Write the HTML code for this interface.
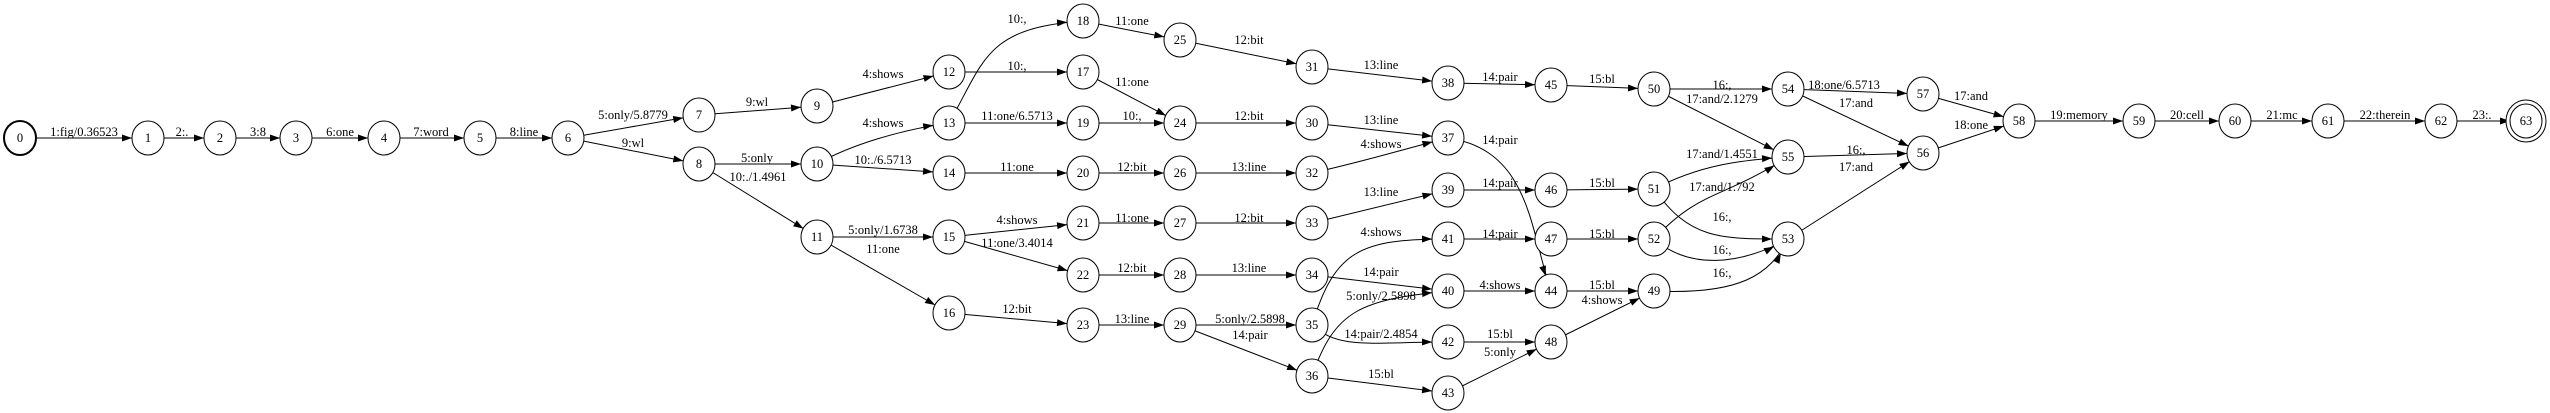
<!DOCTYPE html>
<html><head><meta charset="utf-8"><style>
html,body{margin:0;padding:0;background:#fff;width:2550px;height:413px;overflow:hidden}
svg text{font-family:"Liberation Serif",serif;font-size:12.5px;fill:#000}
.e{fill:none;stroke:#000;stroke-width:1;marker-end:url(#a)}
.n{fill:#fff;stroke:#000;stroke-width:1}
</style></head><body>
<svg width="2550" height="413" viewBox="0 0 2550 413">
<defs><marker id="a" viewBox="0 0 10 7" markerWidth="10" markerHeight="7" refX="26" refY="3.5" markerUnits="userSpaceOnUse" orient="auto" overflow="visible"><path d="M0,0 L10,3.5 L0,7 z" fill="#000"/></marker></defs>
<g>
<path class="e" d="M20,138 L148,138"/>
<path class="e" d="M148,138 L220,138"/>
<path class="e" d="M220,138 L296,138"/>
<path class="e" d="M296,138 L384,138"/>
<path class="e" d="M384,138 L480,138"/>
<path class="e" d="M480,138 L568,138"/>
<path class="e" d="M568,138 L699,115"/>
<path class="e" d="M568,138 L699,164"/>
<path class="e" d="M699,115 L817,106"/>
<path class="e" d="M699,164 L817,164"/>
<path class="e" d="M699,164 L817,237"/>
<path class="e" d="M817,106 L949,72"/>
<path class="e" d="M817,164 C850,145 900,130 949,123"/>
<path class="e" d="M817,164 L949,173"/>
<path class="e" d="M817,237 L949,237"/>
<path class="e" d="M817,237 L949,313"/>
<path class="e" d="M949,123 C985,60 985,28 1083,21"/>
<path class="e" d="M949,72 L1083,72"/>
<path class="e" d="M949,123 L1083,123"/>
<path class="e" d="M949,173 L1083,173"/>
<path class="e" d="M949,237 L1083,223"/>
<path class="e" d="M949,237 L1083,275"/>
<path class="e" d="M949,313 L1083,325"/>
<path class="e" d="M1083,21 L1180,40"/>
<path class="e" d="M1083,72 L1180,123"/>
<path class="e" d="M1083,123 L1180,123"/>
<path class="e" d="M1083,173 L1180,173"/>
<path class="e" d="M1083,223 L1180,223"/>
<path class="e" d="M1083,275 L1180,275"/>
<path class="e" d="M1083,325 L1180,325"/>
<path class="e" d="M1180,40 L1312,67"/>
<path class="e" d="M1180,123 L1312,123"/>
<path class="e" d="M1180,173 L1312,173"/>
<path class="e" d="M1180,223 L1312,223"/>
<path class="e" d="M1180,275 L1312,275"/>
<path class="e" d="M1180,325 L1312,325"/>
<path class="e" d="M1180,325 L1312,376"/>
<path class="e" d="M1312,67 L1448,83"/>
<path class="e" d="M1312,123 L1448,138"/>
<path class="e" d="M1312,173 C1370,160 1400,150 1448,138"/>
<path class="e" d="M1312,223 L1448,190"/>
<path class="e" d="M1312,325 C1335,250 1360,239 1448,239"/>
<path class="e" d="M1312,275 L1448,291"/>
<path class="e" d="M1312,376 C1335,310 1360,300 1448,291"/>
<path class="e" d="M1312,325 C1340,350 1370,342 1448,342"/>
<path class="e" d="M1312,376 L1448,393"/>
<path class="e" d="M1448,83 L1551,85"/>
<path class="e" d="M1448,138 C1530,150 1530,230 1551,291"/>
<path class="e" d="M1448,190 L1551,190"/>
<path class="e" d="M1448,239 L1551,239"/>
<path class="e" d="M1448,291 L1551,291"/>
<path class="e" d="M1448,342 L1551,342"/>
<path class="e" d="M1448,393 L1551,342"/>
<path class="e" d="M1551,85 L1654,89"/>
<path class="e" d="M1551,190 L1654,189"/>
<path class="e" d="M1551,239 L1654,239"/>
<path class="e" d="M1551,291 L1654,291"/>
<path class="e" d="M1551,342 L1654,291"/>
<path class="e" d="M1654,89 L1788,89"/>
<path class="e" d="M1654,89 L1788,157"/>
<path class="e" d="M1654,189 C1700,165 1740,160 1788,157"/>
<path class="e" d="M1654,239 C1700,190 1720,200 1788,157"/>
<path class="e" d="M1654,189 C1690,240 1720,239 1788,239"/>
<path class="e" d="M1654,239 C1690,270 1740,265 1788,239"/>
<path class="e" d="M1654,291 C1740,295 1770,275 1788,239"/>
<path class="e" d="M1788,89 L1923,94"/>
<path class="e" d="M1788,89 L1923,153"/>
<path class="e" d="M1788,157 L1923,153"/>
<path class="e" d="M1788,239 L1923,153"/>
<path class="e" d="M1923,94 L2019,121"/>
<path class="e" d="M1923,153 L2019,121"/>
<path class="e" d="M2019,121 L2139,121"/>
<path class="e" d="M2139,121 L2235,121"/>
<path class="e" d="M2235,121 L2328,121"/>
<path class="e" d="M2328,121 L2441,121"/>
<path class="e" d="M2441,121 L2526,121"/>
</g>
<g>
<ellipse class="n" cx="20" cy="138" rx="16" ry="17" stroke-width="2" style="stroke-width:2"/>
<ellipse class="n" cx="148" cy="138" rx="16" ry="17"/>
<ellipse class="n" cx="220" cy="138" rx="16" ry="17"/>
<ellipse class="n" cx="296" cy="138" rx="16" ry="17"/>
<ellipse class="n" cx="384" cy="138" rx="16" ry="17"/>
<ellipse class="n" cx="480" cy="138" rx="16" ry="17"/>
<ellipse class="n" cx="568" cy="138" rx="16" ry="17"/>
<ellipse class="n" cx="699" cy="115" rx="16" ry="17"/>
<ellipse class="n" cx="699" cy="164" rx="16" ry="17"/>
<ellipse class="n" cx="817" cy="106" rx="16" ry="17"/>
<ellipse class="n" cx="817" cy="164" rx="16" ry="17"/>
<ellipse class="n" cx="817" cy="237" rx="16" ry="17"/>
<ellipse class="n" cx="949" cy="72" rx="16" ry="17"/>
<ellipse class="n" cx="949" cy="123" rx="16" ry="17"/>
<ellipse class="n" cx="949" cy="173" rx="16" ry="17"/>
<ellipse class="n" cx="949" cy="237" rx="16" ry="17"/>
<ellipse class="n" cx="949" cy="313" rx="16" ry="17"/>
<ellipse class="n" cx="1083" cy="72" rx="16" ry="17"/>
<ellipse class="n" cx="1083" cy="21" rx="16" ry="17"/>
<ellipse class="n" cx="1083" cy="123" rx="16" ry="17"/>
<ellipse class="n" cx="1083" cy="173" rx="16" ry="17"/>
<ellipse class="n" cx="1083" cy="223" rx="16" ry="17"/>
<ellipse class="n" cx="1083" cy="275" rx="16" ry="17"/>
<ellipse class="n" cx="1083" cy="325" rx="16" ry="17"/>
<ellipse class="n" cx="1180" cy="123" rx="16" ry="17"/>
<ellipse class="n" cx="1180" cy="40" rx="16" ry="17"/>
<ellipse class="n" cx="1180" cy="173" rx="16" ry="17"/>
<ellipse class="n" cx="1180" cy="223" rx="16" ry="17"/>
<ellipse class="n" cx="1180" cy="275" rx="16" ry="17"/>
<ellipse class="n" cx="1180" cy="325" rx="16" ry="17"/>
<ellipse class="n" cx="1312" cy="123" rx="16" ry="17"/>
<ellipse class="n" cx="1312" cy="67" rx="16" ry="17"/>
<ellipse class="n" cx="1312" cy="173" rx="16" ry="17"/>
<ellipse class="n" cx="1312" cy="223" rx="16" ry="17"/>
<ellipse class="n" cx="1312" cy="275" rx="16" ry="17"/>
<ellipse class="n" cx="1312" cy="325" rx="16" ry="17"/>
<ellipse class="n" cx="1312" cy="376" rx="16" ry="17"/>
<ellipse class="n" cx="1448" cy="138" rx="16" ry="17"/>
<ellipse class="n" cx="1448" cy="83" rx="16" ry="17"/>
<ellipse class="n" cx="1448" cy="190" rx="16" ry="17"/>
<ellipse class="n" cx="1448" cy="291" rx="16" ry="17"/>
<ellipse class="n" cx="1448" cy="239" rx="16" ry="17"/>
<ellipse class="n" cx="1448" cy="342" rx="16" ry="17"/>
<ellipse class="n" cx="1448" cy="393" rx="16" ry="17"/>
<ellipse class="n" cx="1551" cy="291" rx="16" ry="17"/>
<ellipse class="n" cx="1551" cy="85" rx="16" ry="17"/>
<ellipse class="n" cx="1551" cy="190" rx="16" ry="17"/>
<ellipse class="n" cx="1551" cy="239" rx="16" ry="17"/>
<ellipse class="n" cx="1551" cy="342" rx="16" ry="17"/>
<ellipse class="n" cx="1654" cy="291" rx="16" ry="17"/>
<ellipse class="n" cx="1654" cy="89" rx="16" ry="17"/>
<ellipse class="n" cx="1654" cy="189" rx="16" ry="17"/>
<ellipse class="n" cx="1654" cy="239" rx="16" ry="17"/>
<ellipse class="n" cx="1788" cy="239" rx="16" ry="17"/>
<ellipse class="n" cx="1788" cy="89" rx="16" ry="17"/>
<ellipse class="n" cx="1788" cy="157" rx="16" ry="17"/>
<ellipse class="n" cx="1923" cy="153" rx="16" ry="17"/>
<ellipse class="n" cx="1923" cy="94" rx="16" ry="17"/>
<ellipse class="n" cx="2019" cy="121" rx="16" ry="17"/>
<ellipse class="n" cx="2139" cy="121" rx="16" ry="17"/>
<ellipse class="n" cx="2235" cy="121" rx="16" ry="17"/>
<ellipse class="n" cx="2328" cy="121" rx="16" ry="17"/>
<ellipse class="n" cx="2441" cy="121" rx="16" ry="17"/>
<ellipse class="n" cx="2526" cy="121" rx="20" ry="21"/>
<ellipse class="n" cx="2526" cy="121" rx="16" ry="17"/>
</g>
<g text-anchor="middle" dominant-baseline="central">
<text x="20" y="138">0</text><text x="148" y="138">1</text><text x="220" y="138">2</text><text x="296" y="138">3</text><text x="384" y="138">4</text><text x="480" y="138">5</text><text x="568" y="138">6</text>
<text x="699" y="115">7</text><text x="699" y="164">8</text><text x="817" y="106">9</text><text x="817" y="164">10</text><text x="817" y="237">11</text>
<text x="949" y="72">12</text><text x="949" y="123">13</text><text x="949" y="173">14</text><text x="949" y="237">15</text><text x="949" y="313">16</text>
<text x="1083" y="72">17</text><text x="1083" y="21">18</text><text x="1083" y="123">19</text><text x="1083" y="173">20</text><text x="1083" y="223">21</text><text x="1083" y="275">22</text><text x="1083" y="325">23</text>
<text x="1180" y="123">24</text><text x="1180" y="40">25</text><text x="1180" y="173">26</text><text x="1180" y="223">27</text><text x="1180" y="275">28</text><text x="1180" y="325">29</text>
<text x="1312" y="123">30</text><text x="1312" y="67">31</text><text x="1312" y="173">32</text><text x="1312" y="223">33</text><text x="1312" y="275">34</text><text x="1312" y="325">35</text><text x="1312" y="376">36</text>
<text x="1448" y="138">37</text><text x="1448" y="83">38</text><text x="1448" y="190">39</text><text x="1448" y="291">40</text><text x="1448" y="239">41</text><text x="1448" y="342">42</text><text x="1448" y="393">43</text>
<text x="1551" y="291">44</text><text x="1551" y="85">45</text><text x="1551" y="190">46</text><text x="1551" y="239">47</text><text x="1551" y="342">48</text>
<text x="1654" y="291">49</text><text x="1654" y="89">50</text><text x="1654" y="189">51</text><text x="1654" y="239">52</text>
<text x="1788" y="239">53</text><text x="1788" y="89">54</text><text x="1788" y="157">55</text>
<text x="1923" y="153">56</text><text x="1923" y="94">57</text><text x="2019" y="121">58</text><text x="2139" y="121">59</text><text x="2235" y="121">60</text><text x="2328" y="121">61</text><text x="2441" y="121">62</text><text x="2526" y="121">63</text>

<text x="84" y="132">1:fig/0.36523</text>
<text x="182" y="132">2:.</text>
<text x="258" y="132">3:8</text>
<text x="340" y="132">6:one</text>
<text x="431" y="132">7:word</text>
<text x="524" y="132">8:line</text>
<text x="633" y="115">5:only/5.8779</text>
<text x="633" y="143">9:wl</text>
<text x="757" y="102">9:wl</text>
<text x="757" y="158">5:only</text>
<text x="758" y="177">10:./1.4961</text>
<text x="883" y="74">4:shows</text>
<text x="883" y="123">4:shows</text>
<text x="883" y="160">10:./6.5713</text>
<text x="883" y="230">5:only/1.6738</text>
<text x="883" y="249">11:one</text>
<text x="1017" y="19">10:,</text>
<text x="1017" y="66">10:,</text>
<text x="1017" y="116">11:one/6.5713</text>
<text x="1017" y="167">11:one</text>
<text x="1017" y="220">4:shows</text>
<text x="1017" y="243">11:one/3.4014</text>
<text x="1017" y="309">12:bit</text>
<text x="1132" y="21">11:one</text>
<text x="1132" y="82">11:one</text>
<text x="1132" y="116">10:,</text>
<text x="1132" y="167">12:bit</text>
<text x="1132" y="218">11:one</text>
<text x="1132" y="268">12:bit</text>
<text x="1132" y="319">13:line</text>
<text x="1249" y="40">12:bit</text>
<text x="1249" y="116">12:bit</text>
<text x="1249" y="167">13:line</text>
<text x="1249" y="218">12:bit</text>
<text x="1249" y="268">13:line</text>
<text x="1250" y="319">5:only/2.5898</text>
<text x="1250" y="335">14:pair</text>
<text x="1381" y="65">13:line</text>
<text x="1381" y="120">13:line</text>
<text x="1381" y="144">4:shows</text>
<text x="1381" y="192">13:line</text>
<text x="1381" y="232">4:shows</text>
<text x="1381" y="272">14:pair</text>
<text x="1381" y="296">5:only/2.5898</text>
<text x="1381" y="334">14:pair/2.4854</text>
<text x="1381" y="374">15:bl</text>
<text x="1500" y="77">14:pair</text>
<text x="1500" y="140">14:pair</text>
<text x="1500" y="183">14:pair</text>
<text x="1500" y="234">14:pair</text>
<text x="1500" y="285">4:shows</text>
<text x="1500" y="334">15:bl</text>
<text x="1500" y="352">5:only</text>
<text x="1602" y="79">15:bl</text>
<text x="1602" y="183">15:bl</text>
<text x="1602" y="234">15:bl</text>
<text x="1602" y="285">15:bl</text>
<text x="1602" y="300">4:shows</text>
<text x="1722" y="85">16:,</text>
<text x="1722" y="99">17:and/2.1279</text>
<text x="1722" y="154">17:and/1.4551</text>
<text x="1722" y="187">17:and/1.792</text>
<text x="1722" y="217">16:,</text>
<text x="1722" y="250">16:,</text>
<text x="1722" y="273">16:,</text>
<text x="1844" y="85">18:one/6.5713</text>
<text x="1856" y="103">17:and</text>
<text x="1856" y="150">16:,</text>
<text x="1856" y="167">17:and</text>
<text x="1971" y="96">17:and</text>
<text x="1971" y="125">18:one</text>
<text x="2079" y="115">19:memory</text>
<text x="2187" y="115">20:cell</text>
<text x="2282" y="115">21:mc</text>
<text x="2385" y="115">22:therein</text>
<text x="2482" y="115">23:.</text>
</g>
</svg>
</body></html>
